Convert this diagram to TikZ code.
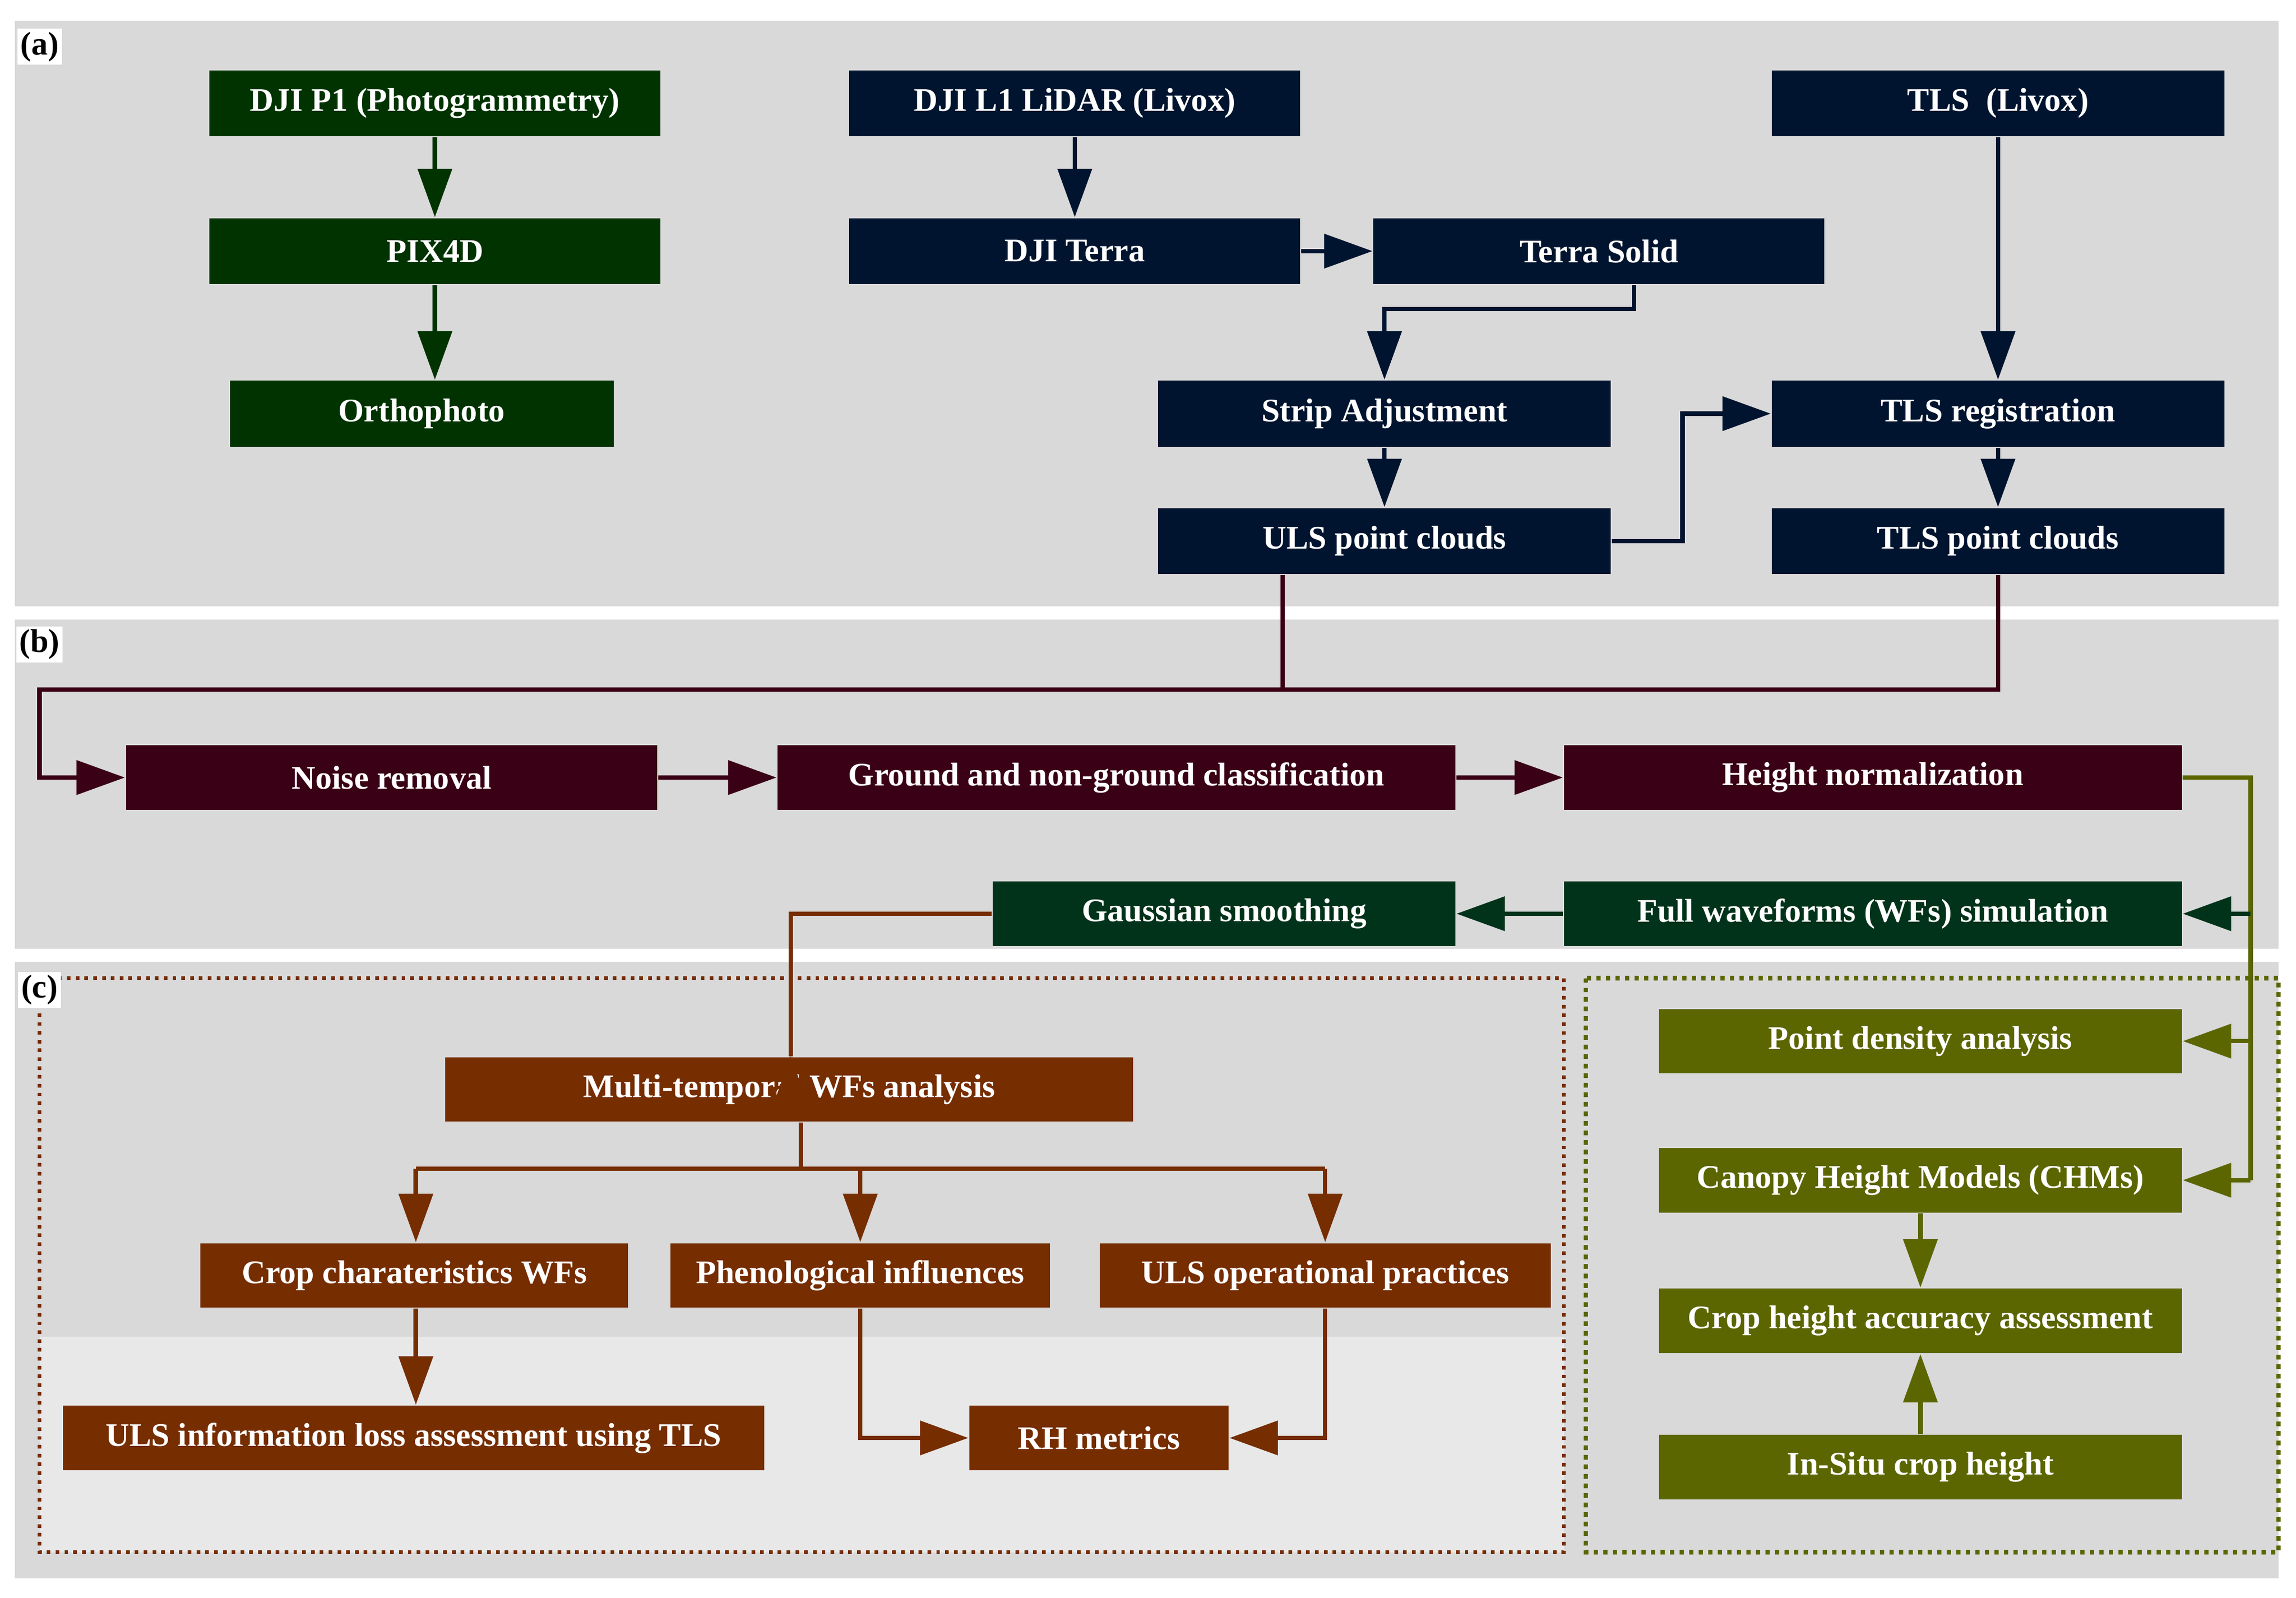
\documentclass[tikz,border=0pt]{standalone}
\usepackage{fontspec}
\setmainfont{Liberation Serif}
\usetikzlibrary{arrows.meta,calc}
\definecolor{cgreen}{HTML}{003300}
\definecolor{cnavy}{HTML}{00142F}
\definecolor{cmaroon}{HTML}{3A0015}
\definecolor{cdgreen}{HTML}{00331A}
\definecolor{cbrown}{HTML}{762D00}
\definecolor{colive}{HTML}{5C6600}
\definecolor{bggray}{HTML}{D9D9D9}
\definecolor{bglight}{HTML}{E8E8E8}
\tikzset{
  box/.style={inner sep=0pt,text=white,font=\fontsize{6.4}{7}\selectfont\bfseries},
  arr/.style={line width=0.3mm,-{Triangle[length=3.3mm,width=2.3mm]}},
  lbl/.style={fill=white,inner sep=0.6pt,font=\fontsize{6.4}{7}\selectfont\bfseries}
}
\newcommand{\bx}[7]{\node[box,fill=#6,minimum width={(#3-#2)*0.1mm},minimum height={(#5-#4)*0.1mm}] (#1) at ({(#2+#3)/2},{(#4+#5)/2}) {#7};}
\begin{document}
\begin{tikzpicture}[x=0.1mm,y=-0.1mm]
\useasboundingbox[fill=white] (0,0) rectangle (1568,1091);
% panels
\fill[bggray] (10,14) rectangle (1556,414);
\fill[bggray] (10,423) rectangle (1556,648);
\fill[bggray] (10,657) rectangle (1556,1078);
\fill[bglight] (27,913) rectangle (1068,1060);
\draw[cbrown,densely dotted,line width=0.25mm] (27,668) rectangle (1068,1060);
\draw[colive,densely dotted,line width=0.3mm] (1083,668) rectangle (1556,1060);
\node[lbl] (la) at (27,32) {(a)};
\node[lbl] (lb) at (27,440) {(b)};
\node[lbl] (lc) at (27,676) {(c)};
% (a)
\bx{P1}{143}{451}{48}{93}{cgreen}{DJI P1 (Photogrammetry)}
\bx{PIX}{143}{451}{149}{194}{cgreen}{PIX4D}
\bx{Ortho}{157}{419}{260}{305}{cgreen}{Orthophoto}
\bx{L1}{580}{888}{48}{93}{cnavy}{DJI L1 LiDAR (Livox)}
\bx{Terra}{580}{888}{149}{194}{cnavy}{DJI Terra}
\bx{TSolid}{938}{1246}{149}{194}{cnavy}{Terra Solid}
\bx{Strip}{791}{1100}{260}{305}{cnavy}{Strip Adjustment}
\bx{ULS}{791}{1100}{347}{392}{cnavy}{ULS point clouds}
\bx{TLS}{1210}{1519}{48}{93}{cnavy}{TLS\ \ (Livox)}
\bx{TLSreg}{1210}{1519}{260}{305}{cnavy}{TLS registration}
\bx{TLSpc}{1210}{1519}{347}{392}{cnavy}{TLS point clouds}
% (b)
\bx{Noise}{86}{449}{509}{553}{cmaroon}{Noise removal}
\bx{Ground}{531}{994}{509}{553}{cmaroon}{Ground and non-ground classification}
\bx{Height}{1068}{1490}{509}{553}{cmaroon}{Height normalization}
\bx{Gauss}{678}{994}{602}{646}{cdgreen}{Gaussian smoothing}
\bx{FullWF}{1068}{1490}{602}{646}{cdgreen}{Full waveforms (WFs) simulation}
% (c)
\bx{Multi}{304}{774}{722}{766}{cbrown}{Multi-temporal WFs analysis}
\bx{Crop}{137}{429}{849}{893}{cbrown}{Crop charateristics WFs}
\bx{Pheno}{458}{717}{849}{893}{cbrown}{Phenological influences}
\bx{ULSop}{751}{1059}{849}{893}{cbrown}{ULS operational practices}
\bx{ULSinfo}{43}{522}{960}{1004}{cbrown}{ULS information loss assessment using TLS}
\bx{RH}{662}{839}{960}{1004}{cbrown}{RH metrics}
\bx{PD}{1133}{1490}{689}{733}{colive}{Point density analysis}
\bx{CHM}{1133}{1490}{784}{828}{colive}{Canopy Height Models (CHMs)}
\bx{CAcc}{1133}{1490}{880}{924}{colive}{Crop height accuracy assessment}
\bx{InSitu}{1133}{1490}{980}{1024}{colive}{In-Situ crop height}
% helper coordinates
\coordinate (k1) at (1116,211);
\coordinate (k2) at (1149,0);
\coordinate (k3) at (876,471);
\coordinate (k4) at (27,0);
\coordinate (k5) at (1537,0);
\coordinate (k6) at (540,0);
\coordinate (k7) at (547,798);
\coordinate (k8) at (284,0);
\coordinate (k9) at (905,0);
% connectors (a)
\draw[arr,cgreen] (P1) -- (PIX);
\draw[arr,cgreen] (PIX.south) -- (PIX.south |- Ortho.north);
\draw[arr,cnavy] (L1.south -| Terra.south) -- (Terra.north);
\draw[arr,cnavy] (Terra) -- (TSolid);
\draw[arr,cnavy] (TSolid.south -| k1) -- (k1) -- (k1 -| Strip.north) -- (Strip.north);
\draw[arr,cnavy] (Strip) -- (ULS);
\draw[arr,cnavy] (ULS.east) -- (ULS.east -| k2) -- (k2 |- TLSreg.west) -- (TLSreg.west);
\draw[arr,cnavy] (TLS) -- (TLSreg);
\draw[arr,cnavy] (TLSreg) -- (TLSpc);
% (b)
\draw[cmaroon,line width=0.3mm] (ULS.south -| k3) -- (k3);
\draw[arr,cmaroon] (TLSpc.south) -- (TLSpc.south |- k3) -- (k4 |- k3) -- (k4 |- Noise.west) -- (Noise.west);
\draw[arr,cmaroon] (Noise) -- (Ground);
\draw[arr,cmaroon] (Ground) -- (Height);
\draw[colive,line width=0.3mm] (Height.east) -- (Height.east -| k5) -- (k5 |- CHM.east);
\draw[arr,cdgreen] (k5 |- FullWF.east) -- (FullWF.east);
\draw[arr,colive] (k5 |- PD.east) -- (PD.east);
\draw[arr,colive] (k5 |- CHM.east) -- (CHM.east);
\draw[arr,cdgreen] (FullWF) -- (Gauss);
\draw[arr,cbrown] (Gauss.west) -- (Gauss.west -| k6) -- (k6 |- Multi.north) -- (Multi.north -| k6);
% (c)
\draw[cbrown,line width=0.3mm] (Multi.south -| k7) -- (k7);
\draw[arr,cbrown] (k8 |- k7) -- (k8 |- Crop.north);
\draw[cbrown,line width=0.3mm] (k8 |- k7) -- (k9 |- k7);
\draw[arr,cbrown] (Pheno.north |- k7) -- (Pheno.north);
\draw[arr,cbrown] (k9 |- k7) -- (k9 |- ULSop.north);
\draw[arr,cbrown] (Crop.south -| k8) -- (k8 |- ULSinfo.north);
\draw[arr,cbrown] (Pheno.south) -- (Pheno.south |- RH.west) -- (RH.west);
\draw[arr,cbrown] (ULSop.south -| k9) -- (k9 |- RH.east) -- (RH.east);
\draw[arr,colive] (CHM) -- (CAcc);
\draw[arr,colive] (InSitu) -- (CAcc);
\end{tikzpicture}
\end{document}
